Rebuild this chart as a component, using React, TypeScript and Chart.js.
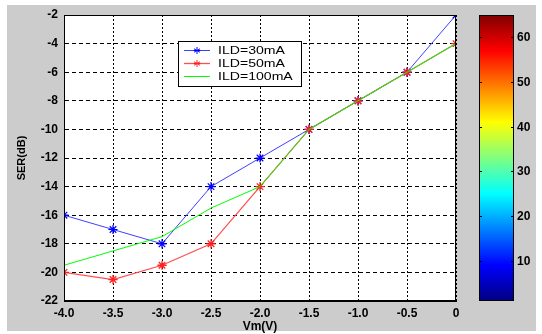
import { useEffect, useRef } from 'react';
import { Chart, registerables } from 'chart.js';
Chart.register(...registerables);

const vm = [-4, -3.5, -3, -2.5, -2, -1.5, -1, -0.5, 0];
const ser30 = [-16, -17, -18, -14, -12, -10, -8, -6, -2];
const ser50 = [-20, -20.5, -19.5, -18, -14, -10, -8, -6, -4];
const ser100 = [-19.5, -18.5, -17.5, -15.5, -14, -10, -8, -6, -4];
const seriesLabels = ['ILD=30mA', 'ILD=50mA', 'ILD=100mA'];
const xTickValues = [-4, -3.5, -3, -2.5, -2, -1.5, -1, -0.5, 0];
const yTickValues = [-22, -20, -18, -16, -14, -12, -10, -8, -6, -4, -2];
const cbTicks = [10, 20, 30, 40, 50, 60];
const cbRange = [1, 65];
const xTitle = 'Vm(V)';
const yTitle = 'SER(dB)';

const FONT = '"Liberation Sans", Arial, sans-serif';

const jet: [number, string][] = [
  [0, '#000080'],
  [0.125, '#0000ff'],
  [0.375, '#00ffff'],
  [0.625, '#ffff00'],
  [0.875, '#ff0000'],
  [1, '#800000'],
];

const bgPlugin = {
  id: 'bgPlugin',
  beforeDraw(chart: any) {
    const { ctx, chartArea } = chart;
    ctx.save();
    ctx.fillStyle = '#cccccc';
    ctx.fillRect(7, 5, 529, 326);
    ctx.fillStyle = '#ffffff';
    ctx.fillRect(chartArea.left, chartArea.top, chartArea.right - chartArea.left, chartArea.bottom - chartArea.top);
    ctx.restore();
  },
  afterDraw(chart: any) {
    const { ctx, chartArea } = chart;
    ctx.save();
    ctx.strokeStyle = '#000';
    ctx.lineWidth = 1;
    ctx.setLineDash([]);
    ctx.strokeRect(chartArea.left + 0.5, chartArea.top + 0.5, chartArea.right - chartArea.left - 1, chartArea.bottom - chartArea.top - 1);

    // colorbar
    const cbL = 479, cbR = 514;
    const top = chartArea.top, bottom = chartArea.bottom;
    const g = ctx.createLinearGradient(0, bottom, 0, top);
    jet.forEach(([s, c]) => g.addColorStop(s, c));
    ctx.fillStyle = g;
    ctx.fillRect(cbL, top, cbR - cbL, bottom - top);
    ctx.strokeStyle = '#000';
    ctx.strokeRect(cbL + 0.5, top + 0.5, cbR - cbL - 1, bottom - top - 1);
    const toY = (v: number) => bottom - ((v - cbRange[0]) / (cbRange[1] - cbRange[0])) * (bottom - top);
    ctx.fillStyle = '#000';
    ctx.font = 'bold 12px ' + FONT;
    ctx.textAlign = 'left';
    ctx.textBaseline = 'middle';
    cbTicks.forEach((v) => {
      const y = Math.round(toY(v)) + 0.5;
      ctx.beginPath();
      ctx.moveTo(cbL, y); ctx.lineTo(cbL + 3, y);
      ctx.moveTo(cbR, y); ctx.lineTo(cbR - 3, y);
      ctx.stroke();
      ctx.fillText(String(v), cbR + 3, y);
    });

    // legend
    const lx = 178, ly = 41, lw = 123, lh = 45;
    ctx.fillStyle = '#fff';
    ctx.fillRect(lx, ly, lw, lh);
    ctx.strokeStyle = '#000';
    ctx.strokeRect(lx + 0.5, ly + 0.5, lw, lh);
    chart.data.datasets.forEach((ds: any, i: number) => {
      const y = ly + 9 + i * 13;
      ctx.strokeStyle = ds.borderColor;
      ctx.lineWidth = ds.borderWidth;
      ctx.beginPath();
      ctx.moveTo(lx + 6, y + 0.5);
      ctx.lineTo(lx + 32, y + 0.5);
      ctx.stroke();
      if (ds.pointRadius > 0) {
        const r = 3.5;
        ctx.strokeStyle = ds.pointBorderColor;
        ctx.lineWidth = 1;
        ctx.beginPath();
        const cx = lx + 19, cy = y + 0.5;
        for (let k = 0; k < 3; k++) {
          const a = Math.PI / 2 + (k * Math.PI) / 3;
          ctx.moveTo(cx + r * Math.cos(a), cy + r * Math.sin(a));
          ctx.lineTo(cx - r * Math.cos(a), cy - r * Math.sin(a));
        }
        ctx.moveTo(cx - r, cy); ctx.lineTo(cx + r, cy);
        ctx.stroke();
      }
      ctx.save();
      ctx.translate(lx + 40, y + 1);
      ctx.scale(1.28, 1);
      ctx.font = '11px ' + FONT;
      ctx.fillStyle = '#000';
      ctx.textBaseline = 'middle';
      ctx.fillText(ds.label, 0, 0);
      ctx.restore();
    });
    ctx.restore();
  },
};

export default function App() {
  const ref = useRef<HTMLCanvasElement>(null);
  useEffect(() => {
    if (!ref.current) return;
    const mk = (ys: number[]) => vm.map((x, i) => ({ x, y: ys[i] }));
    const chart = new Chart(ref.current, {
      type: 'line',
      data: {
        datasets: [
          {
            label: seriesLabels[0], data: mk(ser30), borderColor: '#4040ff', borderWidth: 1,
            pointStyle: 'star', pointRadius: 4.6, pointBorderColor: '#0000ff', pointBorderWidth: 1.2,
            pointBackgroundColor: '#0000ff', order: 3,
          },
          {
            label: seriesLabels[1], data: mk(ser50), borderColor: '#ff5050', borderWidth: 1.3,
            pointStyle: 'star', pointRadius: 4.6, pointBorderColor: '#ff2020', pointBorderWidth: 1.3,
            pointBackgroundColor: '#ff0000', order: 2,
          },
          {
            label: seriesLabels[2], data: mk(ser100), borderColor: '#00ff00', borderWidth: 1,
            pointRadius: 0, order: 1,
          },
        ],
      },
      options: {
        animation: false,
        responsive: false,
        events: [],
        layout: { padding: { left: 7, right: 86, top: 15, bottom: 0 } },
        plugins: { legend: { display: false }, tooltip: { enabled: false } },
        scales: {
          x: {
            type: 'linear', min: -4, max: 0,
            afterBuildTicks: (s: any) => { s.ticks = xTickValues.map((v) => ({ value: v })); },
            afterFit: (s: any) => { s.height = 33; },
            grid: { display: true, drawOnChartArea: true, color: '#000000', lineWidth: 1, drawTicks: false },
            border: { display: true, color: '#000', dash: [2, 2] },
            ticks: { color: '#000', font: { family: FONT, size: 12, weight: 'bold' }, padding: 5, maxRotation: 0, autoSkip: false },
            title: { display: true, text: xTitle, color: '#000', font: { family: FONT, size: 12, weight: 'bold' }, padding: { top: 0, bottom: 0 } },
          },
          y: {
            type: 'linear', min: -22, max: -2,
            afterBuildTicks: (s: any) => { s.ticks = yTickValues.map((v) => ({ value: v })); },
            afterFit: (s: any) => { s.width = 57; },
            grid: { display: true, drawOnChartArea: true, color: '#000000', lineWidth: 1, drawTicks: false },
            border: { display: true, color: '#000', dash: [4, 3] },
            ticks: { color: '#000', font: { family: FONT, size: 12, weight: 'bold' }, padding: 6, autoSkip: false },
            title: { display: true, text: yTitle, color: '#000', font: { family: FONT, size: 11, weight: 'bold' }, padding: { top: 8, bottom: 0 } },
          },
        },
      } as any,
      plugins: [bgPlugin],
    });
    return () => chart.destroy();
  }, []);
  return (
    <div style={{ position: 'fixed', left: 0, top: 0, width: 542, height: 334, background: '#fff' }}>
      <canvas ref={ref} width={542} height={334} style={{ width: 542, height: 334 }} />
    </div>
  );
}
